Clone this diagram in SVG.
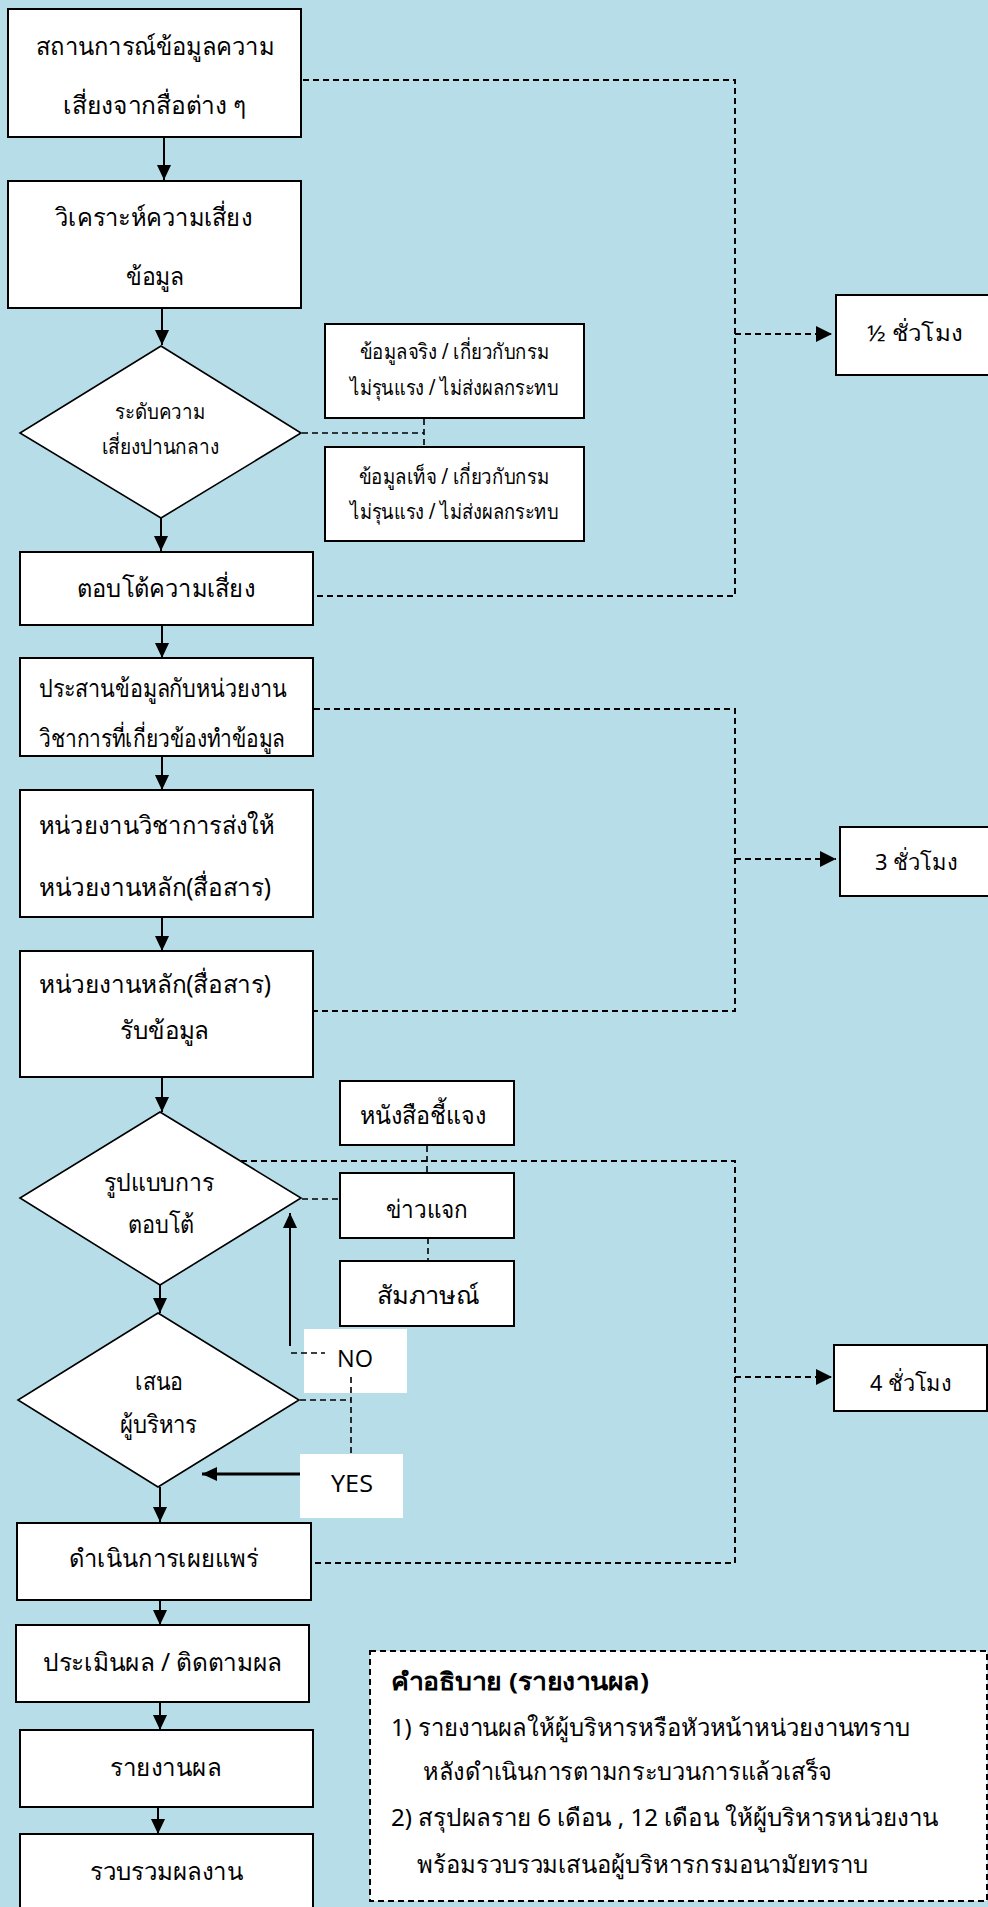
<svg xmlns="http://www.w3.org/2000/svg" width="988" height="1907" viewBox="0 0 988 1907">
<style>
.bg{fill:#b6dde8}
.box{fill:#fff;stroke:#000;stroke-width:2}
.dia{fill:#fff;stroke:#000;stroke-width:1.6}
.lbl{fill:#fff;stroke:none}
.t{font-family:"Noto Sans","DejaVu Sans",sans-serif;fill:#000;text-anchor:middle;font-size:25px}
.s{font-size:21px}
.h{font-size:22px}
.l{font-family:"Noto Sans","DejaVu Sans",sans-serif;fill:#000;font-size:24px}
.b{font-weight:bold}
.en{font-family:"Open Sans","DejaVu Sans",sans-serif;fill:#000;text-anchor:middle;font-size:24px}
.ar{fill:none;stroke:#000;stroke-width:2}
.ar3{fill:none;stroke:#000;stroke-width:3}
.da{fill:none;stroke:#000;stroke-width:2;stroke-dasharray:6,4}
.dt{fill:none;stroke:#000;stroke-width:1.6;stroke-dasharray:6,4}
</style>
<defs>
<marker id="ah" markerUnits="userSpaceOnUse" markerWidth="16" markerHeight="14" refX="15" refY="7" orient="auto">
<path d="M0,0 L15,7 L0,14 z" fill="#000"/>
</marker>
<marker id="ahd" markerUnits="userSpaceOnUse" markerWidth="17" markerHeight="16" refX="16" refY="8" orient="auto">
<path d="M0,0 L16,8 L0,16 z" fill="#000"/>
</marker>
</defs>
<rect class="bg" x="0" y="0" width="988" height="1907"/>

<g id="connectors">
<line class="ar" x1="164" y1="137" x2="164" y2="180" marker-end="url(#ah)"/>
<line class="ar" x1="162" y1="308" x2="162" y2="345" marker-end="url(#ah)"/>
<line class="ar" x1="161" y1="518" x2="161" y2="551" marker-end="url(#ah)"/>
<line class="ar" x1="162" y1="625" x2="162" y2="658" marker-end="url(#ah)"/>
<line class="ar" x1="162" y1="756" x2="162" y2="790" marker-end="url(#ah)"/>
<line class="ar" x1="162" y1="917" x2="162" y2="951" marker-end="url(#ah)"/>
<line class="ar" x1="162" y1="1077" x2="162" y2="1112" marker-end="url(#ah)"/>
<line class="ar" x1="160" y1="1285" x2="160" y2="1313" marker-end="url(#ah)"/>
<line class="ar" x1="160" y1="1487" x2="160" y2="1522" marker-end="url(#ah)"/>
<line class="ar" x1="160" y1="1600" x2="160" y2="1625" marker-end="url(#ah)"/>
<line class="ar" x1="160" y1="1702" x2="160" y2="1730" marker-end="url(#ah)"/>
<line class="ar" x1="158" y1="1807" x2="158" y2="1834" marker-end="url(#ah)"/>
<line class="ar" x1="290" y1="1346" x2="290" y2="1213" marker-end="url(#ah)"/>
<line class="ar3" x1="322" y1="1474" x2="202" y2="1474" marker-end="url(#ah)"/>

<polyline class="da" points="303,80 735,80 735,596 314,596"/>
<line class="da" x1="735" y1="334" x2="832" y2="334" marker-end="url(#ahd)"/>
<polyline class="da" points="314,709 735,709 735,1011 314,1011"/>
<line class="da" x1="735" y1="859" x2="836" y2="859" marker-end="url(#ahd)"/>
<polyline class="da" points="241,1161 735,1161 735,1563 312,1563"/>
<line class="da" x1="735" y1="1377" x2="832" y2="1377" marker-end="url(#ahd)"/>

<line class="dt" x1="302" y1="433" x2="424" y2="433"/>
<line class="dt" x1="424" y1="419" x2="424" y2="447"/>
<line class="dt" x1="427" y1="1146" x2="427" y2="1173"/>
<line class="dt" x1="302" y1="1199" x2="340" y2="1199"/>
<line class="dt" x1="428" y1="1238" x2="428" y2="1261"/>
<line class="dt" x1="300" y1="1400" x2="351" y2="1400"/>
</g>

<g id="n1"><rect class="box" x="8" y="9" width="293" height="128"/>
<text class="t" x="155" y="55" textLength="238" lengthAdjust="spacingAndGlyphs">สถานการณ์ข้อมูลความ</text>
<text class="t" x="154.5" y="114" textLength="183" lengthAdjust="spacingAndGlyphs">เสี่ยงจากสื่อต่าง ๆ</text></g>

<g id="n2"><rect class="box" x="8" y="181" width="293" height="127"/>
<text class="t" x="153.5" y="226" textLength="197" lengthAdjust="spacingAndGlyphs">วิเคราะห์ความเสี่ยง</text>
<text class="t" x="155" y="285" textLength="58" lengthAdjust="spacingAndGlyphs">ข้อมูล</text></g>

<g id="d1"><polygon class="dia" points="161,346 301,433 161,518 20,433"/>
<text class="t s" x="160" y="419" textLength="90" lengthAdjust="spacingAndGlyphs">ระดับความ</text>
<text class="t s" x="160.5" y="454" textLength="117" lengthAdjust="spacingAndGlyphs">เสี่ยงปานกลาง</text></g>

<g id="nA"><rect class="box" x="325" y="324" width="259" height="94"/>
<text class="t s" x="454.5" y="359" textLength="189" lengthAdjust="spacingAndGlyphs">ข้อมูลจริง / เกี่ยวกับกรม</text>
<text class="t s" x="454" y="395" textLength="208" lengthAdjust="spacingAndGlyphs">ไม่รุนแรง / ไม่ส่งผลกระทบ</text></g>

<g id="nB"><rect class="box" x="325" y="447" width="259" height="94"/>
<text class="t s" x="454" y="484" textLength="190" lengthAdjust="spacingAndGlyphs">ข้อมูลเท็จ / เกี่ยวกับกรม</text>
<text class="t s" x="454" y="519" textLength="208" lengthAdjust="spacingAndGlyphs">ไม่รุนแรง / ไม่ส่งผลกระทบ</text></g>

<g id="nC"><rect class="box" x="20" y="552" width="293" height="73"/>
<text class="t" x="166" y="597" textLength="178" lengthAdjust="spacingAndGlyphs">ตอบโต้ความเสี่ยง</text></g>

<g id="nD"><rect class="box" x="20" y="658" width="293" height="98"/>
<text class="t" x="163" y="697" textLength="248" lengthAdjust="spacingAndGlyphs">ประสานข้อมูลกับหน่วยงาน</text>
<text class="t" x="162" y="747" textLength="246" lengthAdjust="spacingAndGlyphs">วิชาการที่เกี่ยวข้องทำข้อมูล</text></g>

<g id="nE"><rect class="box" x="20" y="790" width="293" height="127"/>
<text class="t" x="156.5" y="834" textLength="235" lengthAdjust="spacingAndGlyphs">หน่วยงานวิชาการส่งให้</text>
<text class="t" x="155" y="896" textLength="232" lengthAdjust="spacingAndGlyphs">หน่วยงานหลัก(สื่อสาร)</text></g>

<g id="nF"><rect class="box" x="20" y="951" width="293" height="126"/>
<text class="t" x="155" y="993" textLength="232" lengthAdjust="spacingAndGlyphs">หน่วยงานหลัก(สื่อสาร)</text>
<text class="t" x="164.5" y="1039" textLength="89" lengthAdjust="spacingAndGlyphs">รับข้อมูล</text></g>

<g id="d2"><polygon class="dia" points="160,1112 301,1198 160,1285 20,1198"/>
<text class="t" x="159" y="1191" textLength="110" lengthAdjust="spacingAndGlyphs">รูปแบบการ</text>
<text class="t" x="161" y="1233" textLength="66" lengthAdjust="spacingAndGlyphs">ตอบโต้</text></g>

<g id="r1"><rect class="box" x="340" y="1081" width="174" height="64"/>
<text class="t" x="423" y="1124" textLength="126" lengthAdjust="spacingAndGlyphs">หนังสือชี้แจง</text></g>
<g id="r2"><rect class="box" x="340" y="1173" width="174" height="65"/>
<text class="t" x="427" y="1218" textLength="82" lengthAdjust="spacingAndGlyphs">ข่าวแจก</text></g>
<g id="r3"><rect class="box" x="340" y="1261" width="174" height="65"/>
<text class="t" x="428" y="1304" textLength="102" lengthAdjust="spacingAndGlyphs">สัมภาษณ์</text></g>

<g id="d3"><polygon class="dia" points="158,1313 299,1400 158,1487 18,1400"/>
<text class="t" x="159" y="1390" textLength="48" lengthAdjust="spacingAndGlyphs">เสนอ</text>
<text class="t" x="158.5" y="1433" textLength="77" lengthAdjust="spacingAndGlyphs">ผู้บริหาร</text></g>

<g id="no"><rect class="lbl" x="304" y="1329" width="103" height="64"/>
<line class="dt" x1="291" y1="1353" x2="325" y2="1353"/>
<text class="en" x="355" y="1367" textLength="36" lengthAdjust="spacingAndGlyphs">NO</text>
<line class="dt" x1="351" y1="1377" x2="351" y2="1454"/></g>
<g id="yes"><rect class="lbl" x="300" y="1454" width="103" height="64"/>
<text class="en" x="352" y="1492" textLength="42" lengthAdjust="spacingAndGlyphs">YES</text></g>

<g id="nG"><rect class="box" x="17" y="1523" width="294" height="77"/>
<text class="t" x="163.5" y="1567" textLength="189" lengthAdjust="spacingAndGlyphs">ดำเนินการเผยแพร่</text></g>
<g id="nH"><rect class="box" x="16" y="1625" width="293" height="77"/>
<text class="t" x="162.5" y="1671" textLength="239" lengthAdjust="spacingAndGlyphs">ประเมินผล / ติดตามผล</text></g>
<g id="nI"><rect class="box" x="20" y="1730" width="293" height="77"/>
<text class="t" x="165.5" y="1776" textLength="111" lengthAdjust="spacingAndGlyphs">รายงานผล</text></g>
<g id="nJ"><rect class="box" x="20" y="1834" width="293" height="90"/>
<text class="t" x="166.5" y="1880" textLength="153" lengthAdjust="spacingAndGlyphs">รวบรวมผลงาน</text></g>

<g id="h1"><rect class="box" x="836" y="295" width="160" height="80"/>
<text class="t h" x="915" y="341" textLength="96" lengthAdjust="spacingAndGlyphs">½ ชั่วโมง</text></g>
<g id="h2"><rect class="box" x="840" y="827" width="160" height="69"/>
<text class="t h" x="916.5" y="870" textLength="83" lengthAdjust="spacingAndGlyphs">3 ชั่วโมง</text></g>
<g id="h3"><rect class="box" x="834" y="1345" width="153" height="66"/>
<text class="t h" x="911" y="1391" textLength="82" lengthAdjust="spacingAndGlyphs">4 ชั่วโมง</text></g>

<g id="legend"><rect x="370" y="1651" width="617" height="250" fill="#fff" stroke="#000" stroke-width="2" stroke-dasharray="6,4"/>
<text class="l b" x="391" y="1690" textLength="258" lengthAdjust="spacingAndGlyphs">คำอธิบาย (รายงานผล)</text>
<text class="l" x="391" y="1736" textLength="519" lengthAdjust="spacingAndGlyphs">1) รายงานผลให้ผู้บริหารหรือหัวหน้าหน่วยงานทราบ</text>
<text class="l" x="423" y="1780" textLength="409" lengthAdjust="spacingAndGlyphs">หลังดำเนินการตามกระบวนการแล้วเสร็จ</text>
<text class="l" x="391" y="1826" textLength="547" lengthAdjust="spacingAndGlyphs">2) สรุปผลราย 6 เดือน , 12 เดือน ให้ผู้บริหารหน่วยงาน</text>
<text class="l" x="417" y="1873" textLength="451" lengthAdjust="spacingAndGlyphs">พร้อมรวบรวมเสนอผู้บริหารกรมอนามัยทราบ</text></g>
</svg>
